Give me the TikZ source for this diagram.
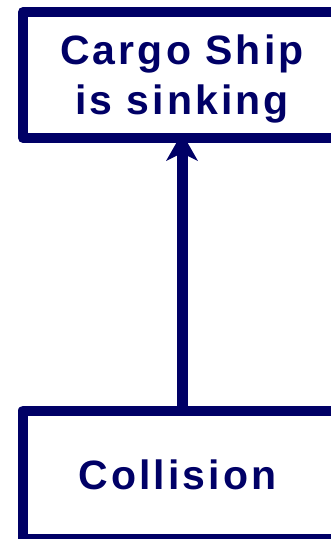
\documentclass[tikz,border=0pt]{standalone}
\usepackage{fontspec}
\usetikzlibrary{arrows.meta}
\newfontfamily\boxfont[LetterSpace=7.5]{Liberation Sans}
\definecolor{navy}{RGB}{0,0,102}
\begin{document}
\begin{tikzpicture}[x=1pt,y=1pt,
  box/.style={draw=navy, line width=10pt, line join=round, rectangle,
    minimum width=318pt, outer sep=0pt, inner sep=0pt, align=center,
    text=navy, font=\boxfont\bfseries\fontsize{41}{50}\selectfont},
  conn/.style={draw=navy, line width=11pt,
    -{Stealth[length=28pt,width=32pt,inset=8pt,line width=0pt]}}]
\useasboundingbox (0,0) rectangle (331,-539);
\clip (0,0) rectangle (331,-539);
\node[box, minimum height=126pt, text height=88pt] (ship) at (182,-75) {Cargo Ship\\is sinking};
\node[box, minimum height=128.5pt] (coll) at (182,-474.75) {\kern-9pt Collision};
\draw[conn, shorten >=-5pt] (coll.north) -- (ship.south);
\end{tikzpicture}
\end{document}
